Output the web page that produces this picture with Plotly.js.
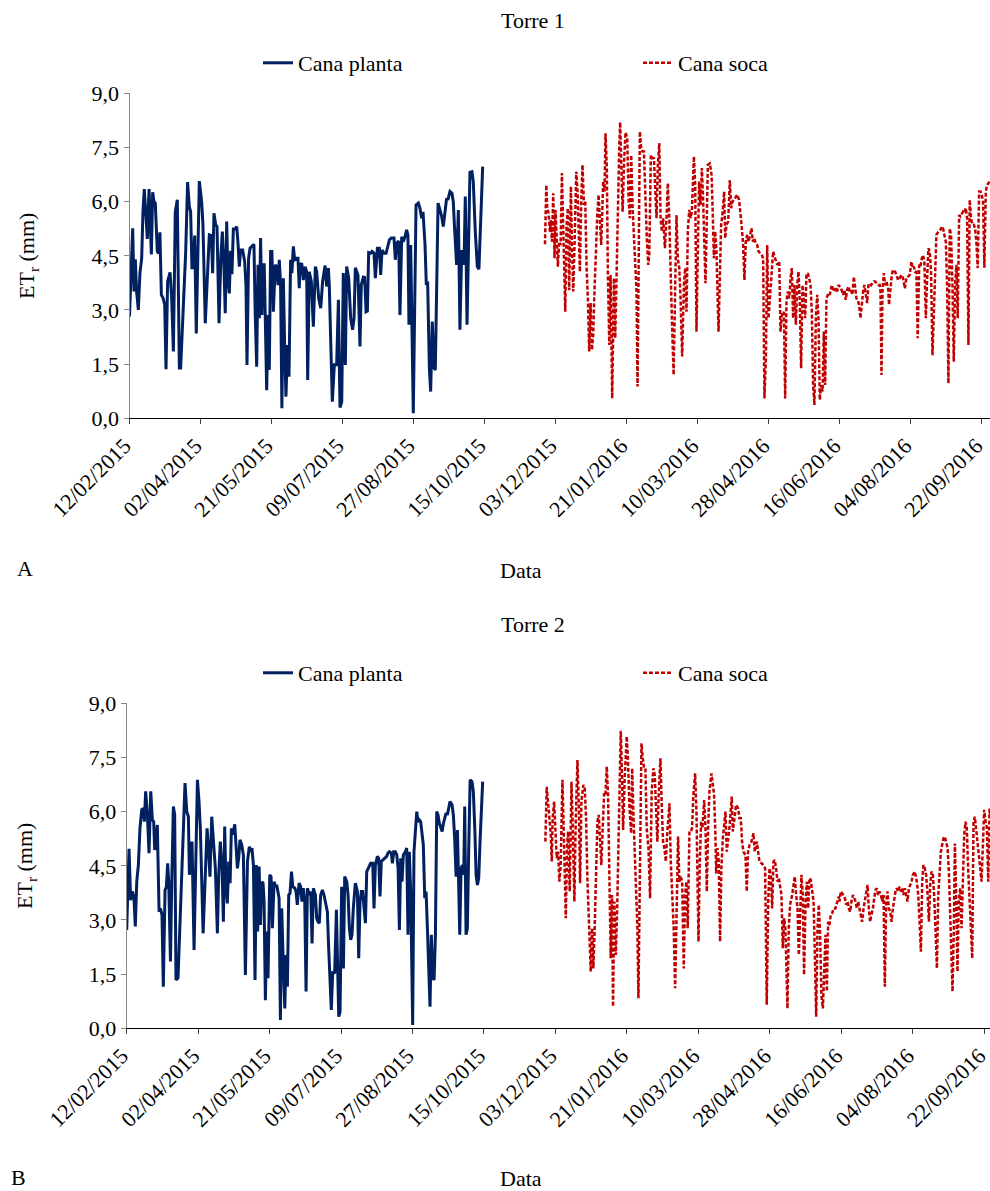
<!DOCTYPE html>
<html><head><meta charset="utf-8">
<script src="https://cdn.plot.ly/plotly-3.0.1.min.js"></script>
<style>html,body{margin:0;padding:0;background:#fff}#chart{width:990px;height:1191px}</style>
</head><body><div id="chart"></div>
<script>
// Datas: dias desde 12/02/2015; valores: ETr (mm)
const tickLabels = ['12/02/2015','02/04/2015','21/05/2015','09/07/2015','27/08/2015','15/10/2015','03/12/2015','21/01/2016','10/03/2016','28/04/2016','16/06/2016','04/08/2016','22/09/2016'];
const yTicks = [0, 1.5, 3, 4.5, 6, 7.5, 9];
const seriesNames = ['Cana planta', 'Cana soca'];
const panelTitles = ['Torre 1', 'Torre 2'];

// Torre 1 - Cana planta [dia, ETr]
const plantaA = [[0,2.82],[2.2,5.26],[3.1,3.51],[4.0,4.40],[4.9,3.51],[6.1,3.00],[7.2,4.02],[8.4,4.43],[9.3,5.72],[10.2,6.35],[11.2,5.72],[12.3,4.97],[13.5,6.35],[15.1,4.54],[16.0,6.26],[16.9,6.00],[17.8,5.96],[19.2,4.62],[20.1,4.57],[21.0,5.15],[22.0,3.42],[23.3,3.32],[24.3,3.14],[25.2,1.36],[26.3,3.79],[28.0,4.04],[29.1,3.32],[30.3,1.85],[31.6,5.72],[33.0,6.05],[34.4,1.39],[35.3,1.39],[37.2,3.14],[38.8,4.62],[40.1,6.54],[41.3,5.86],[42.2,5.72],[43.1,4.17],[44.0,4.17],[45.0,5.06],[46.1,2.35],[48.2,6.57],[49.8,6.00],[50.7,5.36],[52.3,2.63],[53.7,4.06],[55.1,5.08],[56.5,5.06],[57.4,4.02],[58.3,5.68],[59.5,5.36],[60.4,5.31],[61.8,2.63],[63.1,4.52],[64.1,5.17],[65.2,4.20],[66.1,2.91],[67.1,5.45],[68.0,3.79],[68.9,3.46],[69.8,4.64],[70.7,3.99],[71.7,5.24],[73.0,5.24],[74.0,5.31],[74.9,4.85],[75.8,4.20],[76.7,4.66],[78.1,4.66],[79.5,4.34],[80.4,3.69],[81.1,1.48],[82.2,4.43],[83.2,4.71],[84.5,4.76],[85.9,4.82],[86.8,2.86],[87.8,1.43],[88.7,4.25],[89.6,2.77],[90.5,4.99],[91.4,2.86],[92.1,4.25],[93.0,4.25],[93.7,2.86],[94.7,0.78],[95.6,2.86],[96.5,1.34],[97.4,4.62],[98.3,4.62],[99.3,2.95],[100.6,4.25],[101.6,4.20],[102.5,3.69],[103.4,4.39],[104.3,3.69],[105.2,0.28],[106.2,3.88],[107.1,2.03],[108.0,0.60],[109.1,2.03],[110.1,1.15],[111.2,4.39],[112.1,4.02],[113.1,4.76],[114.0,4.39],[115.4,4.43],[116.3,4.43],[117.2,3.60],[117.7,4.25],[118.9,4.29],[120.0,3.83],[121.2,4.20],[122.3,4.06],[123.0,1.06],[124.1,4.06],[125.5,3.79],[126.9,2.54],[128.3,4.20],[129.2,4.06],[130.6,3.32],[132.0,3.05],[133.3,3.79],[135.0,4.23],[136.1,3.65],[137.3,4.16],[137.9,3.69],[140.0,0.46],[141.4,1.48],[143.0,1.48],[144.2,3.28],[145.3,0.30],[146.5,0.46],[147.6,4.02],[149.0,1.48],[149.9,4.20],[151.3,3.88],[152.7,2.77],[154.0,2.45],[155.0,2.77],[155.9,4.17],[157.7,3.97],[159.1,1.99],[160.0,3.69],[161.4,3.91],[162.3,3.90],[163.3,2.95],[164.2,2.97],[165.1,4.59],[166.5,4.57],[167.4,4.62],[168.8,4.57],[169.7,3.88],[171.1,4.71],[172.5,4.71],[173.4,3.97],[174.3,4.66],[175.7,4.57],[177.1,4.57],[178.0,4.71],[179.4,4.94],[180.7,4.99],[182.6,4.99],[183.5,4.39],[184.4,4.85],[185.8,4.91],[186.7,2.86],[187.9,5.03],[189.0,4.89],[190.2,5.03],[191.3,5.22],[192.2,5.08],[192.9,2.59],[194.1,4.80],[195.0,2.59],[195.9,0.14],[197.8,5.91],[199.4,5.96],[200.5,5.82],[201.7,5.54],[202.6,5.72],[204.0,4.80],[204.9,3.69],[205.8,3.79],[207.0,1.39],[207.9,0.74],[209.0,2.68],[210.2,1.39],[211.1,1.34],[213.0,5.96],[214.3,5.77],[215.5,5.59],[216.6,5.31],[217.5,5.63],[218.9,6.09],[219.8,6.05],[221.2,6.28],[222.6,6.23],[223.5,6.00],[224.4,5.26],[225.8,4.25],[227.0,5.77],[228.1,2.45],[229.3,4.62],[230.2,4.62],[230.9,4.25],[231.8,6.14],[233.0,2.59],[234.1,4.89],[235.0,6.81],[236.4,6.83],[237.3,6.56],[238.7,5.17],[240.1,4.20],[241.2,4.13],[242.4,5.54],[243.8,6.97]];

// Torre 1 - Cana soca [dia, ETr]
const socaA = [[286.8,4.82],[287.7,6.46],[288.4,5.82],[289.3,5.68],[290.2,5.17],[290.9,5.49],[291.6,4.89],[292.5,6.23],[293.4,4.43],[294.1,5.77],[294.8,5.08],[295.7,4.20],[296.6,4.89],[297.6,4.80],[298.5,6.79],[299.4,4.89],[300.1,4.06],[300.8,2.95],[301.7,5.36],[302.6,5.82],[303.5,3.55],[304.7,6.42],[305.4,4.80],[306.3,3.51],[307.2,4.80],[308.4,6.83],[309.3,6.28],[310.0,5.17],[310.9,4.06],[311.8,6.00],[312.7,7.02],[313.7,5.91],[314.6,6.00],[315.5,4.20],[316.4,3.32],[317.3,1.85],[318.3,3.19],[319.2,1.89],[320.1,2.31],[320.8,3.32],[321.9,4.71],[322.9,5.63],[323.8,6.19],[324.7,5.54],[325.6,4.80],[327.0,6.56],[327.9,6.28],[328.6,7.89],[329.5,6.93],[330.2,4.06],[331.2,2.03],[332.1,3.97],[333.2,0.55],[334.4,3.88],[335.3,2.22],[336.2,3.88],[337.1,6.00],[338.1,7.57],[338.7,8.20],[339.4,7.20],[340.4,5.72],[341.5,7.20],[342.4,7.92],[343.6,7.76],[344.5,6.09],[345.4,5.54],[346.3,7.29],[347.3,5.82],[348.2,4.99],[349.1,4.06],[350.0,3.51],[350.7,0.88],[351.6,4.62],[352.3,7.94],[353.2,7.48],[354.2,7.39],[355.1,7.39],[356.0,6.19],[357.2,4.89],[358.1,4.25],[358.8,4.52],[359.9,7.29],[361.1,7.20],[362.0,7.20],[362.9,6.46],[363.8,5.54],[364.7,7.02],[365.7,7.62],[366.6,5.54],[367.5,5.17],[368.4,5.54],[369.6,4.71],[370.7,5.54],[371.6,6.51],[372.6,5.54],[373.5,3.69],[374.4,2.77],[375.6,1.20],[376.7,3.79],[377.6,5.63],[378.5,4.43],[379.5,4.16],[380.4,3.32],[381.5,1.71],[382.7,3.69],[383.6,4.16],[384.5,2.95],[385.4,5.17],[386.4,5.77],[387.3,5.54],[388.2,5.72],[389.1,6.83],[389.6,7.25],[390.5,6.46],[391.4,2.40],[392.3,4.62],[393.2,6.56],[394.2,5.91],[395.1,6.93],[396.0,6.00],[396.9,4.62],[397.6,3.74],[398.3,5.08],[399.2,7.02],[400.6,7.06],[401.8,6.74],[402.4,6.00],[403.4,4.43],[404.3,5.17],[405.2,4.62],[406.6,2.40],[407.5,4.06],[408.4,5.36],[409.3,5.63],[410.5,6.28],[411.2,4.99],[412.1,5.36],[413.3,5.45],[414.4,6.60],[415.3,5.82],[416.2,6.00],[417.9,6.09],[419.5,6.19],[420.8,6.05],[421.8,5.72],[422.7,5.26],[423.6,4.80],[424.5,3.83],[425.4,4.89],[426.4,5.08],[427.3,4.89],[428.2,5.08],[429.4,5.26],[430.3,4.89],[431.2,4.99],[432.3,4.85],[433.3,4.80],[434.2,4.62],[435.1,4.57],[436.5,4.52],[437.4,4.43],[438.3,0.55],[439.3,1.66],[440.2,4.80],[441.1,2.77],[442.0,3.32],[442.9,4.06],[444.3,4.62],[445.7,4.43],[447.1,4.25],[448.5,4.34],[449.4,2.40],[450.3,2.86],[451.7,2.95],[452.6,0.55],[453.5,3.23],[454.4,3.51],[455.4,3.32],[456.3,3.88],[457.2,4.16],[458.1,2.77],[459.0,3.69],[460.0,2.59],[460.9,3.69],[461.8,4.06],[462.7,3.23],[463.6,1.39],[464.6,3.69],[465.5,3.23],[466.4,2.77],[467.3,3.97],[468.2,4.02],[469.2,3.88],[470.1,3.69],[471.0,2.95],[471.9,0.92],[472.8,0.37],[473.8,2.77],[474.7,3.42],[475.6,2.77],[476.5,0.51],[477.4,0.92],[478.4,0.74],[479.3,2.40],[480.2,0.92],[481.1,3.32],[482.5,3.46],[483.4,3.42],[484.8,3.69],[486.2,3.51],[487.6,3.60],[488.5,3.51],[489.4,3.69],[490.3,3.65],[491.2,3.60],[492.6,3.42],[493.5,3.55],[494.4,3.28],[495.4,3.55],[496.3,3.65],[497.2,3.51],[498.1,3.55],[499.0,3.42],[500.0,3.92],[500.9,3.51],[501.8,3.32],[502.7,3.28],[503.6,3.14],[504.6,2.77],[505.5,3.23],[506.4,3.51],[507.3,3.69],[508.2,3.46],[509.2,3.19],[510.1,3.69],[511.0,3.74],[511.9,3.69],[512.8,3.74],[513.8,3.79],[514.7,3.79],[515.6,3.74],[516.8,3.69],[517.9,3.69],[518.4,3.51],[519.1,1.20],[519.8,3.51],[520.7,4.02],[521.6,3.69],[522.5,3.79],[523.7,3.60],[524.3,3.14],[525.3,3.69],[526.2,3.97],[527.1,4.11],[528.5,4.06],[529.4,3.97],[530.6,3.83],[531.7,3.88],[532.9,3.97],[534.0,3.88],[535.2,3.60],[536.3,3.88],[537.5,3.92],[538.6,3.97],[539.8,4.34],[540.5,4.16],[541.4,4.20],[542.3,4.06],[543.2,4.06],[544.1,2.22],[545.1,4.25],[546.0,4.20],[546.9,4.43],[547.8,4.52],[548.7,4.34],[549.7,2.77],[550.6,3.88],[551.5,4.71],[552.4,4.62],[553.3,4.06],[554.3,1.75],[555.2,2.77],[556.1,4.06],[557.0,5.08],[558.4,5.17],[559.8,5.22],[560.7,5.31],[561.6,5.26],[562.5,5.08],[563.5,4.89],[564.4,3.69],[565.3,0.97],[566.2,5.26],[567.1,5.08],[568.1,3.69],[569.0,1.57],[569.9,3.69],[570.8,4.25],[571.7,2.77],[572.7,5.63],[573.6,5.59],[574.5,5.68],[575.4,5.72],[576.3,5.68],[577.3,5.82],[578.2,5.54],[579.1,2.03],[580.0,6.05],[580.9,5.54],[581.9,5.36],[582.8,5.36],[583.7,5.26],[584.6,4.89],[585.5,4.16],[586.5,6.28],[587.4,6.28],[588.3,6.19],[589.2,6.00],[590.1,4.17],[591.1,6.28],[592.0,6.46],[592.9,6.51],[593.8,6.56]];

// Torre 2 - Cana planta [dia, ETr]
const plantaB = [[0,2.72],[1.6,4.97],[2.7,3.55],[3.9,3.79],[5.0,3.60],[5.9,2.82],[6.9,4.06],[8.0,4.52],[9.1,5.54],[10.3,6.05],[11.4,6.09],[12.1,5.72],[13.0,6.56],[14.2,5.91],[15.3,4.85],[16.5,6.56],[17.6,5.77],[18.5,5.72],[19.2,4.94],[20.1,5.17],[21.0,5.63],[22.2,3.23],[23.1,3.32],[24.2,3.14],[25.1,1.15],[26.3,3.83],[27.2,3.92],[28.1,4.57],[28.8,4.06],[30.0,1.85],[30.9,4.06],[32.0,6.14],[32.9,5.91],[33.8,1.34],[35.2,1.39],[36.6,2.77],[37.9,4.43],[40.0,6.79],[41.2,6.00],[42.3,5.86],[43.0,4.25],[43.9,4.94],[44.8,5.17],[46.2,2.17],[47.6,5.54],[48.5,6.88],[49.6,6.28],[50.5,5.54],[52.4,2.63],[53.7,4.06],[55.1,5.54],[56.2,4.89],[57.1,4.20],[58.3,5.86],[59.7,5.17],[60.8,4.43],[62.2,2.63],[63.1,4.25],[64.2,5.17],[65.4,4.43],[66.3,2.95],[67.2,5.59],[68.1,3.88],[69.0,3.46],[70.0,4.62],[70.9,4.02],[71.8,5.54],[72.7,5.36],[74.1,5.65],[75.0,5.08],[75.9,4.43],[76.8,4.71],[77.7,5.22],[78.9,5.08],[80.0,4.80],[81.4,1.48],[82.8,4.62],[84.1,5.03],[85.0,4.89],[85.9,4.99],[86.9,4.52],[88.0,1.34],[88.9,4.52],[89.8,2.68],[90.8,4.48],[91.7,2.86],[92.6,4.06],[93.5,4.02],[94.2,3.50],[95.1,0.78],[96.0,2.68],[96.9,1.39],[98.1,4.25],[99.0,4.20],[99.9,2.77],[101.1,4.06],[102.0,3.92],[102.9,3.97],[103.8,3.69],[104.5,3.60],[105.4,0.23],[106.3,3.32],[107.2,2.03],[108.4,0.55],[109.3,2.03],[110.2,1.15],[111.1,3.69],[112.0,3.74],[113.0,4.34],[113.9,3.92],[115.3,3.88],[116.1,3.79],[117.0,3.42],[118.2,4.02],[119.3,3.92],[120.2,3.51],[121.1,3.88],[122.1,3.51],[123.0,1.02],[123.9,3.88],[125.3,3.69],[126.2,3.79],[127.1,2.35],[128.0,3.88],[129.4,3.69],[130.3,3.05],[131.2,2.95],[132.1,2.91],[133.0,3.69],[134.2,3.83],[135.3,3.69],[136.7,3.42],[137.6,3.23],[138.5,2.22],[139.4,1.29],[140.3,0.51],[141.3,1.57],[142.6,1.52],[143.8,3.28],[144.7,1.39],[145.4,0.32],[146.3,0.46],[147.4,3.92],[148.6,1.66],[149.5,4.20],[150.9,4.06],[151.8,3.69],[152.7,2.77],[153.6,2.45],[154.5,2.59],[155.4,3.32],[156.8,4.02],[158.2,3.79],[159.1,1.94],[160.0,3.51],[160.9,3.79],[161.8,3.79],[162.8,3.32],[163.7,2.91],[164.6,4.34],[166.0,4.48],[167.3,4.57],[168.7,4.57],[169.6,3.32],[170.5,4.52],[171.9,4.76],[172.8,4.71],[173.7,3.65],[174.6,4.62],[175.6,4.66],[176.9,4.71],[178.3,4.76],[179.2,4.85],[180.1,4.89],[181.5,4.85],[182.2,4.57],[183.1,4.89],[184.2,4.89],[185.2,4.80],[186.1,4.43],[187.0,2.72],[187.9,4.71],[188.8,4.06],[189.7,4.80],[191.1,4.89],[192.0,4.99],[192.9,2.59],[193.8,4.89],[194.8,3.69],[196.1,0.09],[197.0,4.89],[198.0,5.45],[198.9,6.00],[199.8,5.72],[200.7,5.77],[201.6,5.72],[202.5,5.45],[203.4,5.08],[204.4,3.60],[205.3,3.79],[206.2,2.77],[207.1,1.39],[208.0,0.60],[208.9,2.59],[209.9,1.39],[210.8,1.34],[211.7,2.59],[212.6,6.00],[213.5,5.91],[214.4,5.68],[215.3,5.59],[216.3,5.45],[217.2,5.68],[218.1,5.82],[219.0,5.96],[219.9,5.91],[220.8,6.09],[221.7,6.28],[223.1,6.19],[224.0,5.91],[224.9,5.26],[225.9,4.20],[226.8,5.49],[227.7,3.69],[228.4,2.59],[229.3,4.43],[230.2,4.52],[231.1,4.25],[231.8,6.14],[232.7,2.59],[233.6,2.77],[234.5,4.89],[235.5,6.88],[236.8,6.83],[237.7,6.56],[238.7,5.54],[239.6,4.25],[240.5,3.97],[241.4,4.16],[242.3,5.17],[244.1,6.83]];

// Torre 2 - Cana soca [dia, ETr]
const socaB = [[287.1,5.17],[288.0,6.69],[288.9,6.28],[289.9,5.72],[290.8,5.36],[291.5,4.62],[292.1,5.82],[293.1,6.28],[294.0,5.26],[294.9,4.71],[295.8,4.89],[296.7,4.06],[297.6,4.52],[298.8,6.88],[299.7,5.45],[300.4,4.25],[301.1,3.05],[302.0,5.08],[302.7,5.45],[303.8,3.79],[305.0,6.83],[305.9,5.54],[307.0,3.51],[307.9,5.72],[309.1,7.43],[310.0,6.19],[310.9,4.02],[311.8,6.28],[313.2,6.74],[314.1,6.65],[315.0,5.82],[315.9,4.16],[316.6,3.32],[317.3,2.86],[318.2,1.57],[319.1,2.77],[320.0,1.66],[320.9,2.77],[321.9,4.62],[322.8,5.72],[323.7,5.91],[324.6,5.17],[325.5,4.52],[326.4,5.54],[327.4,6.51],[328.3,6.46],[329.2,7.25],[330.1,6.46],[331.0,3.69],[331.9,1.94],[332.8,3.69],[333.5,0.60],[334.4,3.51],[335.4,2.03],[336.3,3.23],[337.2,5.08],[338.1,7.39],[338.8,8.24],[339.7,6.93],[340.4,5.49],[341.5,6.93],[342.9,8.08],[343.8,7.39],[344.7,6.19],[345.9,5.40],[346.6,7.20],[347.5,5.91],[348.4,4.89],[349.3,4.16],[350.2,2.77],[350.9,0.83],[351.8,3.69],[353.0,7.89],[353.9,7.48],[354.8,7.20],[355.7,7.20],[356.6,5.54],[357.8,4.99],[358.9,3.60],[360.0,6.56],[361.2,7.20],[362.1,7.02],[363.0,5.91],[363.9,5.17],[364.8,6.46],[366.0,7.48],[366.9,6.19],[367.8,5.17],[368.7,4.99],[369.7,4.62],[370.6,5.36],[372.2,6.23],[373.1,4.62],[374.0,3.69],[375.1,2.77],[376.1,1.11],[377.2,4.06],[378.1,5.31],[379.0,4.06],[379.9,4.20],[380.9,4.06],[382.0,1.66],[382.9,3.69],[383.8,4.06],[384.7,2.77],[385.9,5.45],[386.8,5.45],[387.7,5.54],[388.6,6.46],[389.8,7.06],[390.7,6.00],[391.4,4.62],[392.1,2.40],[393.0,4.62],[393.9,5.72],[394.8,5.54],[396.0,6.32],[396.9,5.54],[397.8,3.79],[398.7,5.54],[399.6,6.56],[401.0,7.06],[401.9,6.74],[402.8,6.46],[403.7,5.36],[404.2,4.29],[405.1,4.99],[406.0,4.62],[406.9,2.40],[407.8,4.43],[408.8,5.26],[409.7,5.72],[410.6,6.00],[411.5,4.89],[412.4,5.26],[413.3,5.54],[414.9,6.42],[415.6,5.45],[416.5,5.72],[417.9,6.19],[419.3,6.09],[420.2,5.82],[421.1,5.82],[422.0,5.17],[422.9,4.89],[424.3,4.80],[425.2,3.79],[426.1,4.89],[427.1,5.08],[428.4,5.17],[429.8,5.40],[430.7,4.89],[432.1,5.17],[433.0,4.80],[433.9,4.62],[435.3,4.57],[436.7,4.52],[437.8,4.43],[438.9,0.65],[439.9,3.51],[440.8,4.43],[441.7,4.25],[442.6,3.32],[443.5,4.62],[444.4,4.66],[445.3,4.43],[446.3,4.06],[447.2,4.16],[448.1,3.88],[449.0,3.69],[449.9,2.22],[450.8,3.05],[451.7,2.77],[453.1,0.55],[454.0,2.77],[454.9,3.42],[456.3,3.69],[457.2,3.97],[458.1,4.20],[459.1,3.69],[460.0,3.32],[460.9,2.03],[461.8,3.51],[462.7,4.25],[463.6,3.69],[464.5,1.48],[465.5,3.51],[466.4,4.06],[467.3,3.32],[468.2,4.16],[469.1,4.11],[470.0,3.88],[471.0,3.51],[471.9,2.03],[472.8,0.32],[473.7,2.77],[474.6,3.42],[475.5,2.59],[476.4,0.92],[477.4,0.55],[478.3,1.39],[479.2,2.59],[480.1,1.02],[481.0,2.95],[481.9,2.86],[482.8,3.14],[483.8,3.19],[484.7,3.32],[486.0,3.32],[486.9,3.46],[488.3,3.65],[488.8,3.51],[489.7,3.79],[490.6,3.74],[491.5,3.69],[492.5,3.60],[493.4,3.42],[494.3,3.51],[495.2,3.32],[496.1,3.23],[497.0,3.51],[498.0,3.69],[498.9,3.60],[499.8,3.51],[500.7,3.32],[501.6,3.51],[502.5,3.32],[503.4,3.14],[504.3,2.95],[505.3,3.32],[506.2,3.51],[507.1,3.69],[508.0,3.97],[508.9,3.32],[509.8,2.95],[510.7,3.14],[511.7,3.32],[512.6,3.60],[513.5,3.83],[514.4,3.88],[515.3,3.69],[516.2,3.79],[517.2,3.69],[518.1,3.51],[519.0,3.69],[519.9,1.15],[520.8,3.51],[521.7,3.79],[522.6,3.32],[523.6,3.23],[524.5,2.95],[525.4,3.32],[526.3,3.60],[527.2,3.79],[528.1,3.88],[529.0,3.79],[530.0,3.92],[530.9,3.79],[531.8,3.88],[532.7,3.69],[533.6,3.88],[534.5,3.69],[535.4,3.51],[536.4,3.88],[537.3,3.97],[538.2,4.06],[539.1,4.25],[540.5,4.34],[541.8,4.06],[542.8,3.69],[543.7,2.95],[544.6,2.12],[545.5,4.06],[546.4,4.52],[547.3,4.43],[548.2,4.25],[549.2,3.69],[550.1,2.95],[551.0,3.97],[551.9,4.34],[552.8,4.25],[553.7,3.69],[554.6,2.77],[555.6,1.66],[556.5,3.69],[557.4,4.43],[558.3,4.89],[559.2,5.08],[560.1,5.26],[561.0,5.31],[562.0,5.17],[562.9,4.99],[563.8,4.34],[564.7,3.23],[565.6,1.85],[566.3,1.02],[567.2,2.77],[567.9,5.12],[568.8,3.69],[569.7,1.57],[570.6,3.51],[571.6,3.88],[572.5,2.77],[573.4,4.06],[574.3,5.36],[575.2,5.72],[576.1,5.54],[577.0,4.43],[578.0,3.69],[578.9,2.77],[579.8,1.94],[580.7,5.72],[581.6,5.86],[582.5,5.54],[583.4,5.26],[584.4,4.80],[585.3,4.43],[586.2,4.06],[587.1,5.08],[588.0,6.05],[589.0,5.72],[589.9,5.54],[590.8,4.06],[591.7,6.09],[592.1,5.91]];

const T0 = Date.UTC(2015, 1, 12);
function toDate(d){ return new Date(T0 + d*86400000).toISOString().slice(0,19).replace('T',' '); }
function labelToDate(s){ const p = s.split('/'); return p[2]+'-'+p[1]+'-'+p[0]; }

const W = 990, H = 1191;
const fx = px => px / W;
const fy = py => 1 - py / H;
const FONT = 'Liberation Serif, Times New Roman, serif';
const FS = 22;

const planta = {color:'#002060', width:3};
const soca = {color:'#C00000', width:2.5, dash:'4px,2px'};

function tr(pairs, name, line, xa, ya, lg){
  return {x: pairs.map(p => toDate(p[0])), y: pairs.map(p => p[1]), type:'scatter', mode:'lines',
    name: name, line: line, xaxis: xa, yaxis: ya, legend: lg, hoverinfo:'x+y'};
}
const traces = [
  tr(plantaA, seriesNames[0], planta, 'x', 'y', 'legend'),
  tr(socaA, seriesNames[1], soca, 'x', 'y', 'legend2'),
  tr(plantaB, seriesNames[0], planta, 'x2', 'y2', 'legend3'),
  tr(socaB, seriesNames[1], soca, 'x2', 'y2', 'legend4')
];

function xAxis(left, endDay, anchor){
  return {domain:[fx(left), 1], anchor: anchor, type:'date', range:[toDate(0), toDate(endDay)],
    tickmode:'array', tickvals: tickLabels.map(labelToDate), ticktext: tickLabels, tickangle:-45,
    ticklabeloverflow:'allow', ticklabelshift:-5,
    ticks:'outside', ticklen:5, tickcolor:'#404040', showline:true, linecolor:'#000', linewidth:1,
    showgrid:false, zeroline:false, automargin:false, tickfont:{family:FONT, size:FS, color:'#000'}, fixedrange:true};
}
function yAxis(top, bottom, anchor){
  return {domain:[fy(bottom), fy(top)], anchor: anchor, range:[0, 9], tickmode:'array', tickvals: yTicks,
    tickformat:'.1f', ticklabeloverflow:'allow', ticks:'outside', ticklen:5, tickcolor:'#868686', showline:true, linecolor:'#868686',
    linewidth:1, showgrid:false, zeroline:false, automargin:false, tickfont:{family:FONT, size:FS, color:'#000'}, fixedrange:true};
}
function ann(text, px, py, extra){
  return Object.assign({text: text, x: fx(px), y: fy(py), xref:'paper', yref:'paper', showarrow:false,
    xanchor:'center', yanchor:'middle', font:{family:FONT, size:FS, color:'#000'}}, extra || {});
}
function legendAt(px, py){
  return {orientation:'h', x: fx(px), y: fy(py), xanchor:'left', yanchor:'middle',
    font:{family:FONT, size:FS, color:'#000'}, bgcolor:'rgba(0,0,0,0)', borderwidth:0};
}

const layout = {
  width: W, height: H, margin:{l:0, r:0, t:0, b:0, autoexpand:false}, paper_bgcolor:'#fff', plot_bgcolor:'#fff',
  separators: ',.', showlegend: true, font:{family:FONT, size:FS, color:'#000'},
  xaxis: xAxis(129.5, 594, 'y'),
  yaxis: yAxis(93.3, 418.3, 'x'),
  xaxis2: xAxis(126.7, 592, 'y2'),
  yaxis2: yAxis(703.3, 1028.3, 'x2'),
  legend: legendAt(258, 63),
  legend2: legendAt(638, 63),
  legend3: legendAt(258, 673),
  legend4: legendAt(638, 673),
  annotations: [
    ann(panelTitles[0], 533, 20),
    ann(panelTitles[1], 533, 624),
    ann('ET<sub>r</sub> (mm)', 28, 256, {textangle:-90}),
    ann('ET<sub>r</sub> (mm)', 26, 866, {textangle:-90}),
    ann('Data', 521, 570),
    ann('Data', 521, 1178),
    ann('A', 25, 568),
    ann('B', 18, 1177)
  ]
};

Plotly.newPlot('chart', traces, layout, {staticPlot:true, displayModeBar:false});
</script>
</body></html>
